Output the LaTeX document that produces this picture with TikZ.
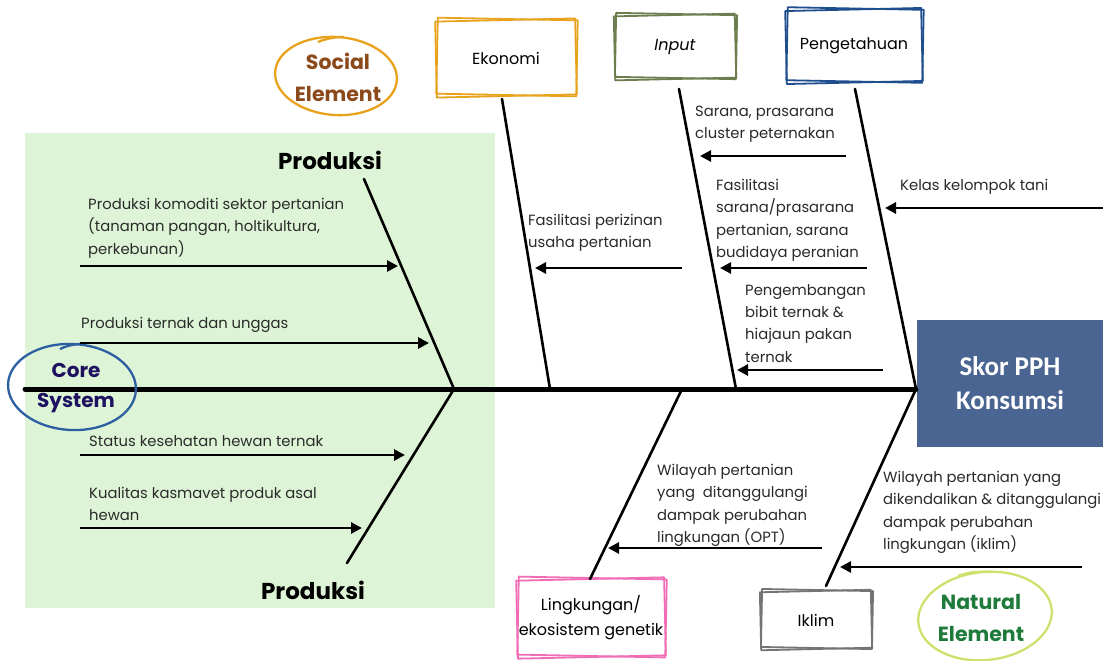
\documentclass[tikz,border=0pt]{standalone}
\usepackage{fontspec}
\setmainfont{Poppins}
\newfontfamily\headfont{Poppins}
\newfontfamily\scorefont{Carlito}
\usetikzlibrary{arrows.meta,calc}

\definecolor{coreBg}{HTML}{DDF5D6}
\definecolor{socialC}{HTML}{E8A21C}
\definecolor{socialT}{HTML}{8B4A1C}
\definecolor{coreC}{HTML}{2C5EA2}
\definecolor{coreT}{HTML}{1E1160}
\definecolor{inputC}{HTML}{6E7D4E}
\definecolor{knowC}{HTML}{1F4E8E}
\definecolor{envC}{HTML}{F06DB5}
\definecolor{climC}{HTML}{747474}
\definecolor{natC}{HTML}{CFE16C}
\definecolor{natT}{HTML}{1E7B3B}
\definecolor{scoreC}{HTML}{4A6591}
\definecolor{inkC}{HTML}{2A2A2A}

% two slightly turned rectangles give a sketched double frame
\newcommand\sketchframe[5]{%
  \draw[#5, frame, rotate around={1.3:(#1,#2)}]
    ({#1-#3/2+2},{#2-#4/2+2}) rectangle ({#1+#3/2-2},{#2+#4/2-2});
  \draw[#5, frame, rotate around={-1.1:(#1,#2)}]
    ({#1-#3/2+3},{#2-#4/2+1}) rectangle ({#1+#3/2-1},{#2+#4/2-3});}

\begin{document}
\begin{tikzpicture}[x=1pt,y=-1pt,
  spine/.style={line width=5pt, line cap=round},
  bone/.style={line width=2.6pt, line cap=round},
  cause/.style={line width=2.7pt, -{Triangle[length=11pt,width=11pt]}},
  frame/.style={line width=1.8pt, line join=round},
  ring/.style={line width=2.3pt},
  txt/.style={anchor=north west, inner sep=0pt, align=left, text=inkC,
    font=\fontsize{14.8}{22.3}\selectfont},
  head/.style={inner sep=0pt, font=\headfont\bfseries\fontsize{23}{24}\selectfont},
  ringtext/.style={inner sep=0pt, align=center,
    font=\headfont\bfseries\fontsize{20.5}{32}\selectfont},
  boxlabel/.style={inner sep=0pt, align=center, text=black,
    font=\headfont\fontsize{16}{25}\selectfont},
]
\useasboundingbox (0,0) rectangle (1103,661);
\fill[white] (0,0) rectangle (1103,661);

% core system area
\fill[coreBg] (25,133) rectangle (495,608);

% effect box
\node[fill=scoreC, minimum width=186pt, minimum height=127pt, inner sep=0pt,
  text=white, align=center, font=\scorefont\bfseries\fontsize{27}{34}\selectfont]
  (skor) at (1010,383) {Skor PPH\\Konsumsi};

% category boxes
\node[boxlabel, minimum width=144pt, minimum height=80pt] (eko) at (506,58) {Ekonomi};
\sketchframe{506}{58}{144}{80}{socialC}
\node[boxlabel, font=\headfont\itshape\fontsize{16}{25}\selectfont,
  minimum width=125pt, minimum height=68pt] (inp) at (675,47) {Input};
\sketchframe{675}{47}{125}{68}{inputC}
\node[boxlabel, minimum width=140pt, minimum height=77pt] (pen) at (854,46) {Pengetahuan};
\sketchframe{854}{46}{140}{77}{knowC}
\node[boxlabel, minimum width=152pt, minimum height=82pt] (lin) at (591,618)
  {Lingkungan/\\ekosistem genetik};
\sketchframe{591}{618}{152}{82}{envC}
\node[boxlabel, minimum width=115pt, minimum height=62pt] (ikl) at (816,620) {Iklim};
\sketchframe{816}{620}{115}{62}{climC}

% group rings
\draw[socialC, ring, rotate around={-4:(336,76)}] (336,76) ellipse [x radius=61, y radius=39];
\draw[socialC, ring] (318,42) .. controls (328,38) and (336,37) .. (344,37);
\node[ringtext, text=socialT] (social) at (338,77) {Social\\Element};

\draw[natC, ring, rotate around={6:(985,616)}] (985,616) ellipse [x radius=67, y radius=44];
\draw[natC, ring] (958,576) .. controls (968,572) and (980,571) .. (992,572);
\node[ringtext, text=natT] (natural) at (981,618) {Natural\\Element};

% spine and bones
\coordinate (tail) at (25,389);
\coordinate (jP) at (454,389);
\coordinate (pTop) at (364,179);
\coordinate (pBot) at (347,563);
\coordinate (eTop) at (502,99);
\coordinate (eBot) at (550,389);
\coordinate (iTop) at (679,89);
\coordinate (iBot) at (736,389);
\coordinate (gTop) at (855,89);
\coordinate (hd) at (916,389);
\coordinate (lTop) at (682,389);
\coordinate (lBot) at (590,579);
\coordinate (kBot) at (826,586);

\draw[spine] (tail) -- (hd);
\draw[bone] (pTop) -- (jP) -- (pBot);
\draw[bone] (eTop) -- (eBot);
\draw[bone] (iTop) -- (iBot);
\draw[bone] (gTop) -- (hd) -- (kBot);
\draw[bone] (lTop) -- (lBot);

\draw[coreC, ring, rotate around={-3:(72,387)}] (72,387) ellipse [x radius=64, y radius=43];
\draw[coreC, ring] (60,349) .. controls (66,346) and (74,344) .. (82,344);
\node[ringtext, font=\headfont\bfseries\fontsize{20}{30}\selectfont, text=coreT]
  (core) at (76,388) {Core\\System};

% group headings
\node[head] (prodTop) at (330,160) {Produksi};
\node[head] (prodBot) at (313,590) {Produksi};

% cause arrows
\coordinate (a1s) at (80,266);   \coordinate (a1e) at (398,266);
\coordinate (a2s) at (80,343);   \coordinate (a2e) at (429,343);
\coordinate (a3s) at (80,455);   \coordinate (a3e) at (405,455);
\coordinate (a4s) at (80,528);   \coordinate (a4e) at (362,528);
\coordinate (a5s) at (682,268);  \coordinate (a5e) at (535,268);
\coordinate (a6s) at (846,156);  \coordinate (a6e) at (700,156);
\coordinate (a7s) at (867,268);  \coordinate (a7e) at (720,268);
\coordinate (a8s) at (883,370);  \coordinate (a8e) at (737,370);
\coordinate (a9s) at (1103,208); \coordinate (a9e) at (885,208);
\coordinate (a10s) at (822,548); \coordinate (a10e) at (608,548);
\coordinate (a11s) at (1082,567); \coordinate (a11e) at (840,567);
\foreach \k in {1,...,11} \draw[cause] (a\k s) -- (a\k e);

% cause labels
\node[txt] (t1) at (88,198) {Produksi komoditi sektor pertanian\\(tanaman pangan, holtikultura,\\perkebunan)};
\node[txt] (t2) at (81,317) {Produksi ternak dan unggas};
\node[txt] (t3) at (89,435) {Status kesehatan hewan ternak};
\node[txt] (t4) at (89,487) {Kualitas kasmavet produk asal\\hewan};
\node[txt] (t5) at (528,214) {Fasilitasi perizinan\\usaha pertanian};
\node[txt] (t6) at (695,106) {Sarana, prasarana\\cluster peternakan};
\node[txt] (t7) at (716,179) {Fasilitasi\\sarana/prasarana\\pertanian, sarana\\budidaya peranian};
\node[txt] (t8) at (745,284) {Pengembangan\\bibit ternak \&\\hiajaun pakan\\ternak};
\node[txt] (t9) at (900,179) {Kelas kelompok tani};
\node[txt] (t10) at (657,464) {Wilayah pertanian\\yang~ ditanggulangi\\dampak perubahan\\lingkungan (OPT)};
\node[txt] (t11) at (883,471) {Wilayah pertanian yang\\dikendalikan \& ditanggulangi\\dampak perubahan\\lingkungan (iklim)};
\end{tikzpicture}
\end{document}
